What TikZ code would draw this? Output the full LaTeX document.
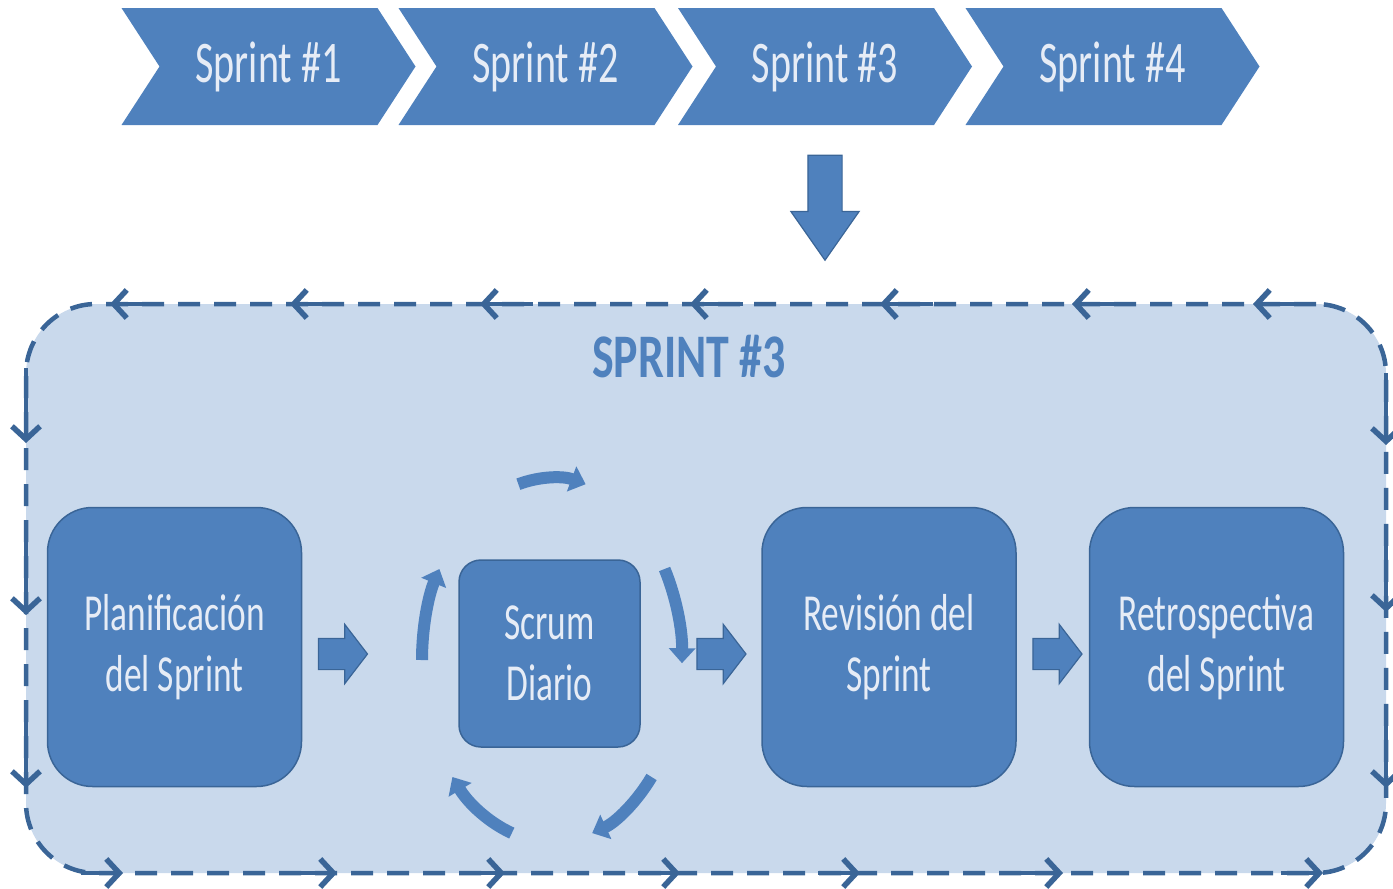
\documentclass[tikz,border=0pt]{standalone}
\usepackage{fontspec}
\setmainfont{Carlito}[FakeStretch=0.68]
\newfontfamily\titlefont{Carlito}[FakeStretch=0.74]
\usetikzlibrary{positioning,shapes.symbols,shapes.arrows,arrows.meta}

\definecolor{mainblue}{HTML}{4F81BD}
\definecolor{darkblue}{HTML}{3A6597}
\definecolor{paleblue}{HTML}{C9D9EC}
\definecolor{lighttext}{HTML}{E6ECF6}

\begin{document}
\begin{tikzpicture}[x=1pt, y=-1pt, node distance=72pt,
  chevron/.style={signal, signal from=west, signal to=east, signal pointer angle=114,
    fill=mainblue, text=lighttext, minimum width=294pt, minimum height=117pt,
    inner sep=0pt, font=\fontsize{59}{70}\selectfont},
  phase/.style={draw=darkblue, line width=1.5pt, fill=mainblue, rounded corners=45pt,
    minimum width=254pt, minimum height=279pt, text=lighttext, align=center,
    font=\fontsize{52}{61}\selectfont},
  blockarrow/.style={single arrow, single arrow head extend=14pt, single arrow tip angle=105,
    minimum height=49pt, inner xsep=0pt, inner ysep=15pt, fill=mainblue,
    draw=darkblue, line width=1.2pt},
  borderarrow/.style={draw=darkblue, line width=4.5pt,
    -{Straight Barb[length=13pt,width=28pt,line width=5.5pt]}},
  ringarrow/.style={draw=mainblue, line width=12pt, -{Triangle[length=15pt,width=26pt]}}]
\useasboundingbox (0,0) rectangle (1393,889);

% sprints
\node[chevron] (s1) at (268.5,66.5) {Sprint \#1};
\node[chevron] (s2) at (545.5,66.5) {Sprint \#2};
\node[chevron] (s3) at (825,66.5)   {Sprint \#3};
\node[chevron] (s4) at (1112.5,66.5) {Sprint \#4};
\node[blockarrow, rotate=-90, minimum height=105pt, inner ysep=16.5pt,
  single arrow head extend=17pt, single arrow tip angle=70] (down) at (825,195.5) {};

% sprint cycle
\node[draw=darkblue, fill=paleblue, line width=4.5pt, dash pattern=on 22pt off 14pt,
  rounded corners=70pt, minimum width=1360pt, minimum height=569pt] (cycle) at (706,588.5) {};
\foreach \x in {110,290,480,690,880,1072,1253}
  \draw[borderarrow] (\x+53,304) -- (\x,304);
\foreach \y in {443,615,788}
  \draw[borderarrow] (26,\y-75) -- (26,\y);
\foreach \y in {445,612,788}
  \draw[borderarrow] (1386,\y-72) -- (1386,\y);
\foreach \x in {123,337,505,680,860,1063,1323}
  \draw[borderarrow] (\x-42,873) -- (\x,873);

\node[text=mainblue, font=\titlefont\bfseries\fontsize{62}{70}\selectfont] (title) at (689,357) {SPRINT \#3};

\node[phase] (plan) at (174.5,647) {Planificación\\del Sprint};
\node[phase, minimum width=181pt, minimum height=187pt, rounded corners=22pt] (scrum) at (549.5,653.5) {Scrum\\Diario};
\node[phase] (review) at (889,647) {Revisión del\\Sprint};
\node[phase, right=of review] (retro) {Retrospectiva\\del Sprint};

\node[blockarrow] (a1) at (337,654) {};
\node[blockarrow] (a2) at (715.5,654) {};
\node[blockarrow] (a3) at (1051.5,654) {};

% daily loop
\coordinate (ring) at (552,660);
\draw[ringarrow] (ring) ++(-105:130 and 182) arc[start angle=-105, end angle=-75, x radius=130, y radius=182];
\draw[ringarrow] (ring) ++(-30:130 and 182) arc[start angle=-30, end angle=1, x radius=130, y radius=182];
\draw[ringarrow] (ring) ++(40:130 and 182) arc[start angle=40, end angle=72, x radius=130, y radius=182];
\draw[ringarrow] (ring) ++(108:130 and 182) arc[start angle=108, end angle=140, x radius=130, y radius=182];
\draw[ringarrow] (ring) ++(180:130 and 182) arc[start angle=180, end angle=210, x radius=130, y radius=182];
\end{tikzpicture}
\end{document}
